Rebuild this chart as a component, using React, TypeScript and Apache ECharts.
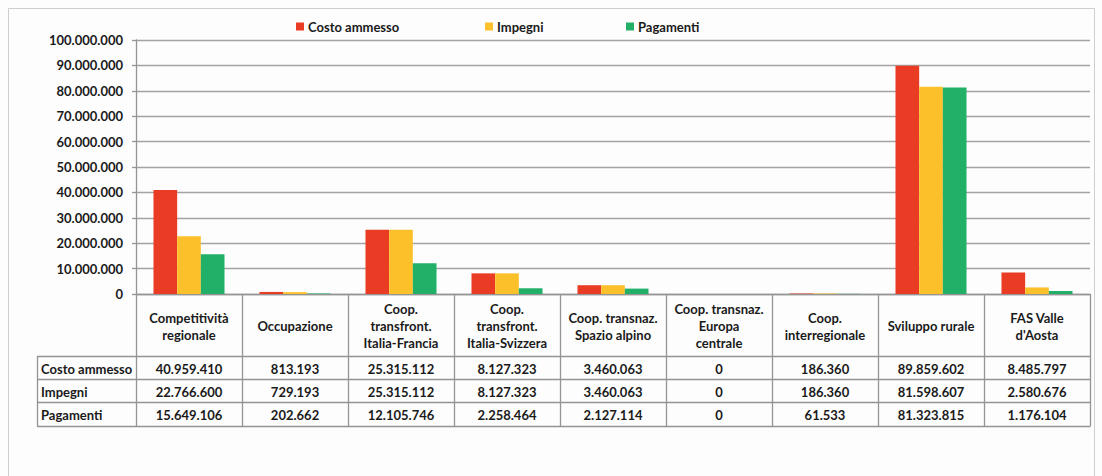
import React, { useEffect, useRef } from "react";
import * as echarts from "echarts";

const categories = [
  "Competitività\nregionale",
  "Occupazione",
  "Coop.\ntransfront.\nItalia-Francia",
  "Coop.\ntransfront.\nItalia-Svizzera",
  "Coop. transnaz.\nSpazio alpino",
  "Coop. transnaz.\nEuropa\ncentrale",
  "Coop.\ninterregionale",
  "Sviluppo rurale",
  "FAS Valle\nd'Aosta",
];
const seriesNames = ["Costo ammesso", "Impegni", "Pagamenti"];
const costoAmmesso = [40959410, 813193, 25315112, 8127323, 3460063, 0, 186360, 89859602, 8485797];
const impegni = [22766600, 729193, 25315112, 8127323, 3460063, 0, 186360, 81598607, 2580676];
const pagamenti = [15649106, 202662, 12105746, 2258464, 2127114, 0, 61533, 81323815, 1176104];
const colors = ["#ea3b24", "#fcc12a", "#22b068"];

const FONT = "Lato";
const TXT = "#1a1a1a";
const LINE = "#949494";

function fmt(n: number): string {
  return String(Math.round(n)).replace(/\B(?=(\d{3})+(?!\d))/g, ".");
}

export default function App() {
  const ref = useRef<HTMLDivElement>(null);
  useEffect(() => {
    document.body.style.margin = "0";
    const chart = echarts.init(ref.current!, null, { renderer: "svg" });
    const W = 1102;
    const gridLeft = 136;
    const gridRight = 1090;
    const gridTop = 40;
    const axisY = 294;
    const colW = (gridRight - gridLeft) / categories.length;
    const tableLeft = 37;
    const rowYs = [356, 379, 402, 426];
    const allData = [costoAmmesso, impegni, pagamenti];

    const graphics: any[] = [];
    graphics.push({
      type: "rect",
      shape: { x: 8.5, y: 8.5, width: 1086, height: 480 },
      style: { fill: "none", stroke: "#cfcfcf", lineWidth: 1 },
      silent: true,
      z: -1,
    });
    for (let i = 0; i <= categories.length; i++) {
      const x = Math.round(gridLeft + i * colW) + 0.5;
      graphics.push({
        type: "line",
        shape: { x1: x, y1: axisY, x2: x, y2: rowYs[3] },
        style: { stroke: LINE, lineWidth: 1.3 },
        silent: true,
      });
    }
    graphics.push({
      type: "line",
      shape: { x1: tableLeft + 0.5, y1: rowYs[0], x2: tableLeft + 0.5, y2: rowYs[3] },
      style: { stroke: LINE, lineWidth: 1.3 },
      silent: true,
    });
    rowYs.forEach((y) => {
      graphics.push({
        type: "line",
        shape: { x1: tableLeft, y1: y + 0.5, x2: gridRight + 0.5, y2: y + 0.5 },
        style: { stroke: LINE, lineWidth: 1.3 },
        silent: true,
      });
    });
    seriesNames.forEach((name, r) => {
      const cy = (rowYs[r] + rowYs[r + 1]) / 2 + 1;
      graphics.push({
        type: "text",
        x: tableLeft + 4,
        y: cy,
        style: {
          text: name,
          font: `bold 13px ${FONT}`,
          fill: TXT,
          textAlign: "left",
          textVerticalAlign: "middle",
        },
        silent: true,
      });
      allData[r].forEach((v, c) => {
        graphics.push({
          type: "text",
          x: gridLeft + (c + 0.5) * colW,
          y: cy,
          style: {
            text: fmt(v),
            font: `bold 13px ${FONT}`,
            fill: TXT,
            textAlign: "center",
            textVerticalAlign: "middle",
          },
          silent: true,
        });
      });
    });

    const legendLefts = [291, 480, 621];
    chart.setOption({
      animation: false,
      backgroundColor: "#fdfdfd",
      color: colors,
      textStyle: { fontFamily: FONT },
      legend: seriesNames.map((n, i) => ({
        data: [n],
        left: legendLefts[i],
        top: 15,
        itemWidth: 8,
        itemHeight: 8,
        itemGap: 0,
        icon: "rect",
        textStyle: { fontFamily: FONT, fontWeight: "bold", fontSize: 13, color: TXT, padding: [0, 0, 0, -1] },
      })),
      grid: {
        left: gridLeft,
        right: W - gridRight,
        top: gridTop,
        bottom: 476 - axisY,
        containLabel: false,
      },
      xAxis: {
        type: "category",
        data: categories,
        axisLine: { show: true, lineStyle: { color: LINE, width: 1.3 } },
        axisTick: { show: false },
        axisLabel: {
          interval: 0,
          margin: 32,
          verticalAlign: "middle",
          lineHeight: 17,
          fontFamily: FONT,
          fontWeight: "bold",
          fontSize: 13,
          color: TXT,
        },
      },
      yAxis: {
        type: "value",
        min: 0,
        max: 100000000,
        interval: 10000000,
        axisLine: { show: true, lineStyle: { color: LINE, width: 1.3 } },
        axisTick: { show: true, length: 4, lineStyle: { color: LINE, width: 1.3 } },
        splitLine: { show: true, lineStyle: { color: "#a3a3a3", width: 1.4 } },
        axisLabel: {
          margin: 13,
          fontFamily: FONT,
          fontWeight: "bold",
          fontSize: 13,
          color: TXT,
          formatter: (v: number) => fmt(v),
        },
      },
      series: seriesNames.map((n, i) => ({
        name: n,
        type: "bar",
        data: allData[i],
        barGap: "0%",
        barCategoryGap: "33%",
        itemStyle: { color: colors[i] },
      })),
      graphic: graphics,
    });
    return () => chart.dispose();
  }, []);
  return <div ref={ref} style={{ width: 1102, height: 476 }} />;
}
